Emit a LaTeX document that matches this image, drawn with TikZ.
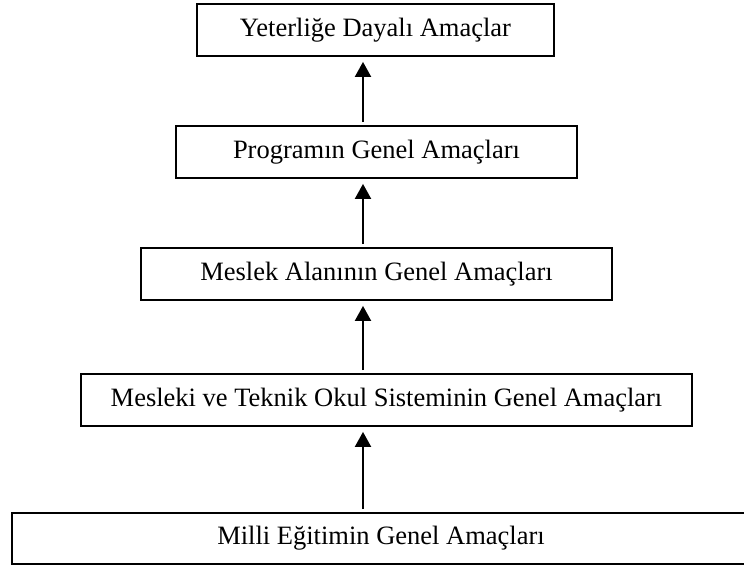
\documentclass[tikz,border=0pt]{standalone}
\usepackage{fontspec}
\setmainfont{Liberation Serif}
\usepackage{tikz}
\usetikzlibrary{arrows.meta}

\tikzset{
  goalbox/.style={draw, line width=0.9pt, inner sep=0pt, minimum height=26pt,
                  font=\fontsize{13.25}{16}\selectfont},
  upflow/.style={-{Triangle[width=8pt,length=7.5pt]}, line width=1pt,
                 shorten <=1.5pt, shorten >=2.5pt}
}

\begin{document}
\begin{tikzpicture}[x=0.5pt,y=-0.5pt]
\useasboundingbox (0,0) rectangle (744,570);
\clip (0,0) rectangle (744,570);
% the goals, from the widest at the bottom to the narrowest at the top
\node[goalbox, minimum width=178.5pt] (yeterlik) at (375.5,30)  {Yeterliğe Dayalı Amaçlar};
\node[goalbox, minimum width=200.5pt] (program)  at (376.5,152) {Programın Genel Amaçları};
\node[goalbox, minimum width=235.5pt] (alan)     at (376.5,274) {Meslek Alanının Genel Amaçları};
\node[goalbox, minimum width=305.5pt] (okul)     at (386.5,400) {Mesleki ve Teknik Okul Sisteminin Genel Amaçları};
\node[goalbox, minimum width=369pt, minimum height=25.5pt] (milli) at (381,538.5) {Milli Eğitimin Genel Amaçları};
% arrows all run on one vertical line
\coordinate (flowline) at (363,0);
\draw[upflow] (milli.north -| flowline)   -- (okul.south -| flowline);
\draw[upflow] (okul.north -| flowline)    -- (alan.south -| flowline);
\draw[upflow] (alan.north -| flowline)    -- (program.south -| flowline);
\draw[upflow] (program.north -| flowline) -- (yeterlik.south -| flowline);
\end{tikzpicture}
\end{document}
